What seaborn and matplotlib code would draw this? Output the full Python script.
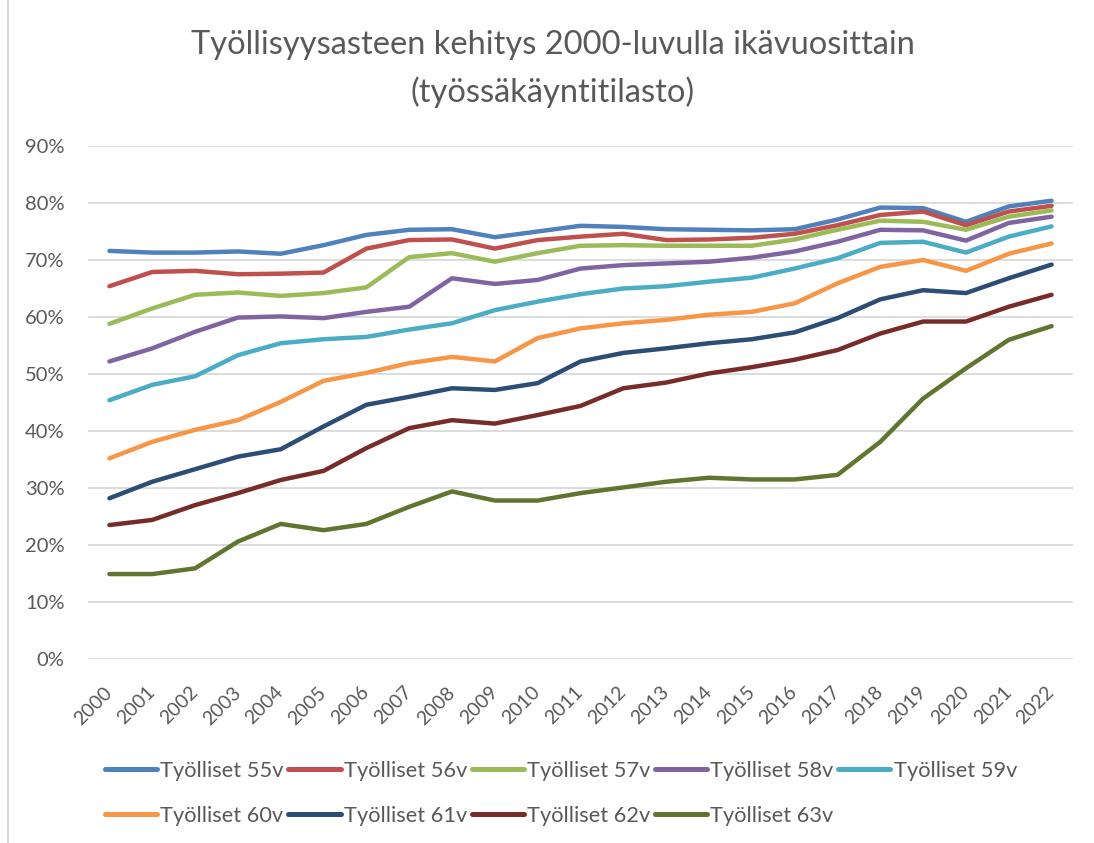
import matplotlib
matplotlib.use("Agg")
import matplotlib.pyplot as plt
import matplotlib.ticker as mticker
from matplotlib.lines import Line2D
import pandas as pd
import seaborn as sns

# data, share of employed by age, %
years = list(range(2000, 2023))
series_names = ["Työlliset 55v", "Työlliset 56v", "Työlliset 57v", "Työlliset 58v",
                "Työlliset 59v", "Työlliset 60v", "Työlliset 61v", "Työlliset 62v",
                "Työlliset 63v"]
v55 = [71.6, 71.3, 71.3, 71.5, 71.1, 72.6, 74.4, 75.3, 75.4, 74.0, 75.0, 76.0,
       75.8, 75.4, 75.3, 75.2, 75.4, 77.1, 79.2, 79.1, 76.7, 79.4, 80.4]
v56 = [65.4, 67.9, 68.1, 67.5, 67.6, 67.8, 72.0, 73.5, 73.6, 72.0, 73.5, 74.1,
       74.6, 73.5, 73.6, 73.9, 74.6, 76.1, 77.9, 78.5, 76.1, 78.5, 79.5]
v57 = [58.8, 61.5, 63.9, 64.3, 63.7, 64.2, 65.2, 70.5, 71.2, 69.7, 71.2, 72.5,
       72.6, 72.5, 72.5, 72.5, 73.6, 75.3, 76.9, 76.7, 75.3, 77.6, 78.7]
v58 = [52.2, 54.5, 57.4, 59.9, 60.1, 59.8, 60.9, 61.8, 66.8, 65.8, 66.5, 68.5,
       69.1, 69.4, 69.7, 70.4, 71.5, 73.2, 75.3, 75.2, 73.4, 76.5, 77.6]
v59 = [45.4, 48.1, 49.6, 53.3, 55.4, 56.1, 56.5, 57.8, 58.9, 61.2, 62.7, 64.0,
       65.0, 65.4, 66.2, 66.9, 68.5, 70.3, 73.0, 73.2, 71.3, 74.1, 75.9]
v60 = [35.2, 38.1, 40.2, 41.9, 45.1, 48.8, 50.2, 51.9, 53.0, 52.2, 56.3, 58.0,
       58.9, 59.5, 60.4, 60.9, 62.4, 65.9, 68.8, 70.0, 68.1, 71.1, 72.9]
v61 = [28.2, 31.1, 33.3, 35.5, 36.8, 40.8, 44.6, 46.0, 47.5, 47.2, 48.4, 52.2,
       53.7, 54.5, 55.4, 56.1, 57.3, 59.8, 63.1, 64.7, 64.2, 66.8, 69.2]
v62 = [23.5, 24.4, 27.0, 29.1, 31.4, 33.0, 37.0, 40.5, 41.9, 41.3, 42.8, 44.4,
       47.5, 48.5, 50.1, 51.2, 52.5, 54.2, 57.1, 59.2, 59.2, 61.8, 63.9]
v63 = [14.9, 14.9, 15.9, 20.6, 23.7, 22.6, 23.7, 26.7, 29.4, 27.8, 27.8, 29.1,
       30.1, 31.1, 31.8, 31.5, 31.5, 32.3, 38.1, 45.7, 51.0, 56.0, 58.4]
colors = ["#4F81BD", "#C0504D", "#9BBB59", "#8064A2", "#4BACC6",
          "#F79646", "#2C4D75", "#772C2A", "#5F7530"]

all_values = [v55, v56, v57, v58, v59, v60, v61, v62, v63]
frames = []
for name, vals in zip(series_names, all_values):
    frames.append(pd.DataFrame({"Vuosi": years, "Osuus": [v / 100 for v in vals], "Sarja": name}))
df = pd.concat(frames, ignore_index=True)

sns.set_style("white")
plt.rcParams["font.family"] = ["Lato", "DejaVu Sans"]
text_color = "#595959"

fig = plt.figure(figsize=(10.94, 8.43), dpi=100)
ax = fig.add_axes([88 / 1094, 184 / 843, 985 / 1094, 513 / 843])

sns.lineplot(data=df, x="Vuosi", y="Osuus", hue="Sarja", palette=colors,
             linewidth=3.2, ax=ax, legend=False, zorder=3)

ax.set_xlim(1999.5, 2022.5)
ax.set_ylim(0, 0.9)
ax.yaxis.set_major_locator(mticker.MultipleLocator(0.1))
ax.yaxis.set_major_formatter(mticker.PercentFormatter(1.0, decimals=0))
ax.set_xticks(years)
ax.set_xticklabels([str(y) for y in years], rotation=45, ha="right",
                   va="center", rotation_mode="anchor")
ax.grid(axis="y", color="#D9D9D9", linewidth=1.3, zorder=0)
ax.grid(axis="x", visible=False)
for s in ax.spines.values():
    s.set_visible(False)
ax.tick_params(axis="y", length=0, pad=17, labelsize=14.5, labelcolor=text_color)
ax.tick_params(axis="x", length=0, pad=22, labelsize=14, labelcolor=text_color)
ax.set_xlabel("")
ax.set_ylabel("")

fig.suptitle("Työllisyysasteen kehitys 2000-luvulla ikävuosittain\n(työssäkäyntitilasto)",
             x=0.505, y=0.965, fontsize=23.5, color=text_color, linespacing=1.65)

# legend, row by row like the original
handles = [Line2D([0], [0], color=c, linewidth=3.6) for c in colors]
order = [0, 5, 1, 6, 2, 7, 3, 8, 4]
leg = fig.legend([handles[i] for i in order], [series_names[i] for i in order],
                 ncol=5, loc="upper left", bbox_to_anchor=(96 / 1094, 1 - 752 / 843),
                 frameon=False, fontsize=15.7, handlelength=2.4, handletextpad=0.15,
                 columnspacing=0.2, labelspacing=1.15, borderaxespad=0)
for t in leg.get_texts():
    t.set_color(text_color)

# light frame line on the left like the screenshot
fig.add_artist(Line2D([8 / 1094, 8 / 1094], [0, 1], color="#D9D9D9", linewidth=1.5))

fig.savefig("out.png", dpi=100, facecolor="white")
